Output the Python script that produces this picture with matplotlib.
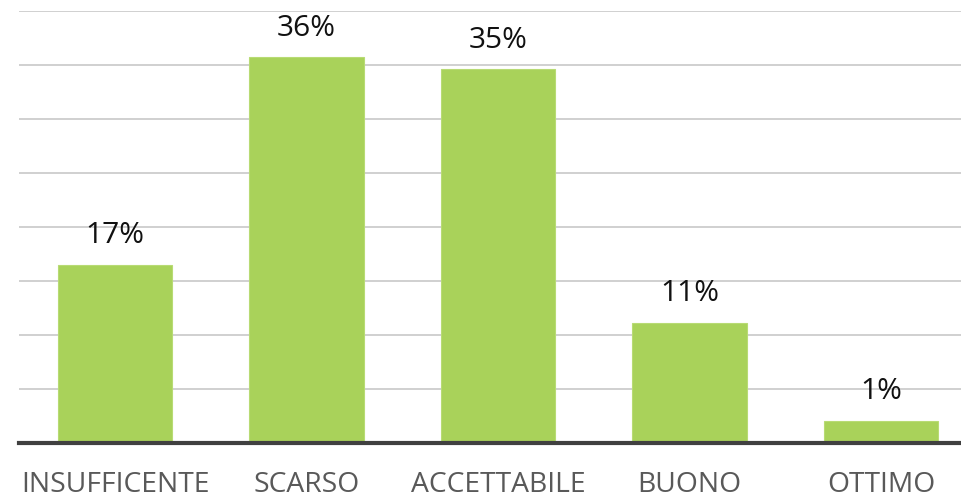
import matplotlib.pyplot as plt

categorie = ["INSUFFICENTE", "SCARSO", "ACCETTABILE", "BUONO", "OTTIMO"]
valori = [16.5, 35.7, 34.6, 11.1, 2.0]
etichette = ["17%", "36%", "35%", "11%", "1%"]
griglia = [0, 5, 10, 15, 20, 25, 30, 35, 40]

plt.rcParams['font.family'] = ['Open Sans', 'DejaVu Sans']

W, H = 961, 499
fig = plt.figure(figsize=(W / 100, H / 100), dpi=100)
ax = fig.add_axes([19.25 / W, (H - 442.5) / H, 957.5 / W, 431.5 / H])

x = range(len(categorie))
ax.bar(x, valori, width=0.6, color='#A9D25A', edgecolor='#B8DB74', linewidth=0.8, zorder=2)

for xi, v, t in zip(x, valori, etichette):
    ax.annotate(t, (xi, v), xytext=(0, 29), textcoords='offset pixels',
                ha='center', va='center', fontsize=21.5, color='#111111')

ax.set_xlim(-0.5, len(categorie) - 0.5)
ax.set_ylim(0, 40)
ax.set_yticks(griglia)
ax.yaxis.grid(True, color='#CDCDCD', linewidth=1.3, zorder=0)
ax.set_axisbelow(True)
ax.tick_params(axis='y', left=False, labelleft=False)
ax.tick_params(axis='x', bottom=False, length=0, pad=20.5)
ax.set_xticks(list(x))
ax.set_xticklabels(categorie, fontsize=20.3, color='#595959')

for s in ['top', 'left', 'right']:
    ax.spines[s].set_visible(False)
ax.spines['bottom'].set_color('#404040')
ax.spines['bottom'].set_linewidth(3)
ax.spines['bottom'].set_zorder(3)

fig.savefig('out.png', dpi=100)
